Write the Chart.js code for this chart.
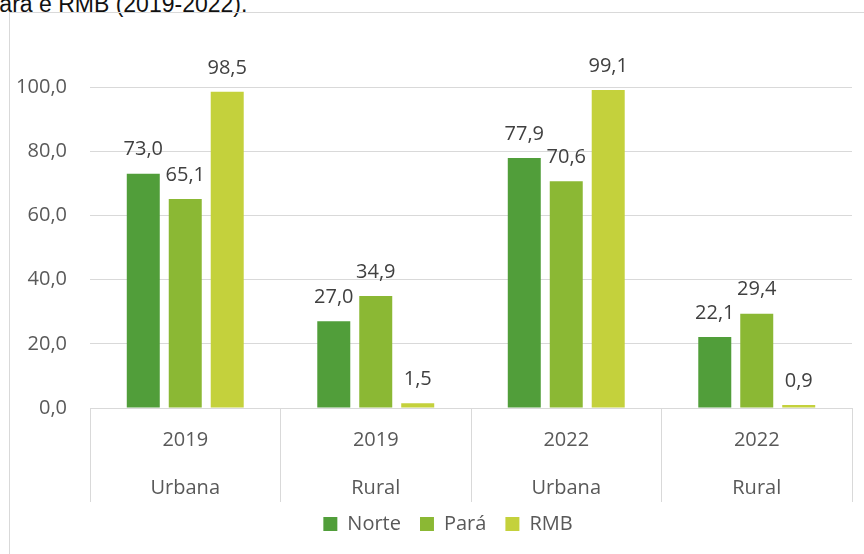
<!DOCTYPE html>
<html>
<head>
<meta charset="utf-8">
<script src="https://cdn.jsdelivr.net/npm/chart.js@4.4.1/dist/chart.umd.min.js"></script>
<style>
  html, body { margin: 0; padding: 0; background: #fff; overflow: hidden; }
  body { width: 864px; height: 554px; position: relative; }
  #caption { position: absolute; left: -16px; top: -7px; font: 23px/23px "Liberation Sans", Arial, sans-serif; color: #111; white-space: nowrap; }
  #frame { position: absolute; left: 9px; top: 12px; width: 900px; height: 600px; border: 1px solid #d9d9d9; box-sizing: border-box; }
  #c { position: absolute; left: 0; top: 0; }
</style>
</head>
<body>
<div id="caption">Pará e RMB (2019-2022).</div>
<div id="frame"></div>
<canvas id="c" width="864" height="554"></canvas>
<script>
const years = ['2019', '2019', '2022', '2022'];
const areas = ['Urbana', 'Rural', 'Urbana', 'Rural'];
const seriesNames = ['Norte', 'Pará', 'RMB'];
const norte = [73.0, 27.0, 77.9, 22.1];
const para = [65.1, 34.9, 70.6, 29.4];
const rmb = [98.5, 1.5, 99.1, 0.9];
const yTicks = [0, 20, 40, 60, 80, 100];

const colors = ['#519E3A', '#8BB834', '#C4D13C'];
const FONT = '"Open Sans", "Noto Sans", sans-serif';
const fmt = v => v.toFixed(1).replace('.', ',');

const labelsPlugin = {
  id: 'valueLabels',
  afterDatasetsDraw(chart) {
    const ctx = chart.ctx;
    ctx.save();
    ctx.font = '20px ' + FONT;
    ctx.fillStyle = '#404040';
    ctx.textAlign = 'center';
    ctx.textBaseline = 'middle';
    chart.data.datasets.forEach((ds, i) => {
      const meta = chart.getDatasetMeta(i);
      meta.data.forEach((el, j) => {
        ctx.fillText(fmt(ds.data[j]), el.x, el.y - 24);
      });
    });
    ctx.restore();
  }
};

const legendShift = {
  id: 'legendShift',
  afterLayout(chart) {
    const lg = chart.legend;
    if (lg) { lg.left += 17; lg.right += 17; lg.top -= 10; lg.bottom -= 10; }
  }
};

new Chart(document.getElementById('c'), {
  type: 'bar',
  data: {
    labels: years.map((y, i) => [y, areas[i]]),
    datasets: [
      { label: seriesNames[0], data: norte, backgroundColor: colors[0] },
      { label: seriesNames[1], data: para, backgroundColor: colors[1] },
      { label: seriesNames[2], data: rmb, backgroundColor: colors[2] }
    ]
  },
  options: {
    responsive: false,
    animation: false,
    devicePixelRatio: 1,
    layout: { padding: { left: 10, top: 87, right: 12, bottom: 0 } },
    datasets: { bar: { categoryPercentage: 0.661, barPercentage: 0.786 } },
    plugins: {
      title: { display: false },
      tooltip: { enabled: false },
      legend: {
        position: 'bottom',
        labels: {
          boxWidth: 14, boxHeight: 14, padding: 19,
          color: '#595959',
          font: { family: FONT, size: 20 }
        }
      }
    },
    scales: {
      y: {
        min: 0, max: 100,
        afterBuildTicks(s) { s.ticks = yTicks.map(v => ({ value: v })); },
        afterFit(s) { s.width = 80; },
        ticks: {
          callback: v => fmt(v),
          color: '#595959',
          font: { family: FONT, size: 20 },
          padding: 23
        },
        grid: { color: '#d9d9d9', drawTicks: false, lineWidth: 1 },
        border: { display: false }
      },
      x: {
        afterFit(s) { s.height = 97; },
        ticks: {
          color: '#595959',
          font: { family: FONT, size: 20, lineHeight: '48px' },
          padding: -86,
          maxRotation: 0
        },
        grid: { drawOnChartArea: false, drawTicks: true, tickLength: 94, color: '#d9d9d9', offset: true },
        border: { display: true, color: '#d9d9d9' }
      }
    }
  },
  plugins: [labelsPlugin, legendShift]
});
</script>
</body>
</html>
